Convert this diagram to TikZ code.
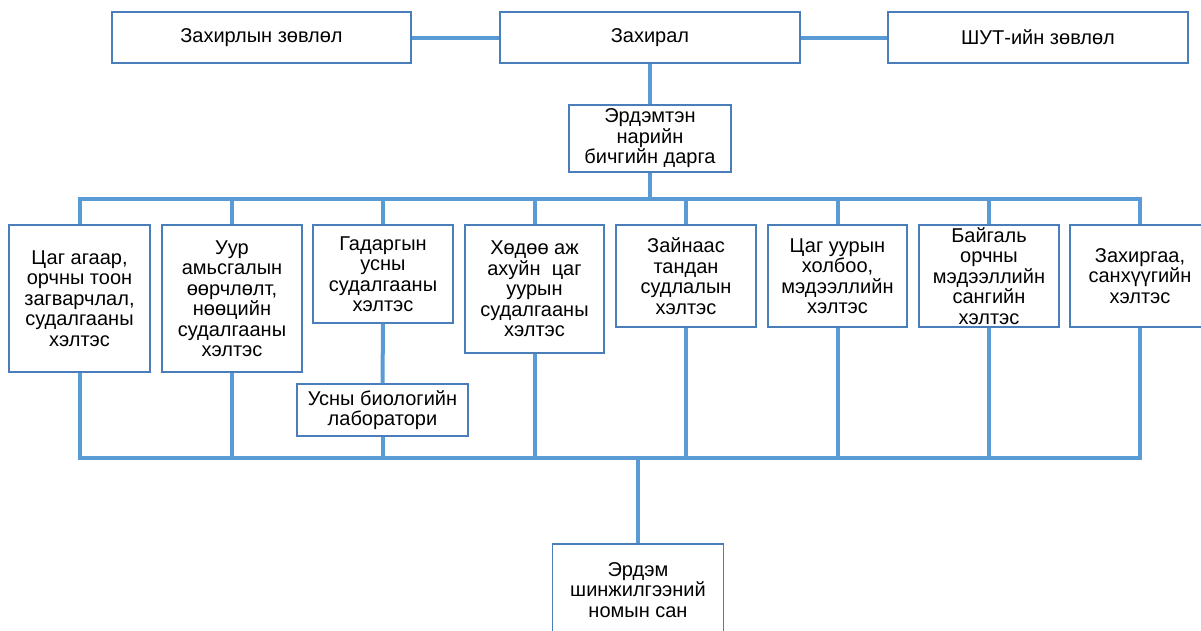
\documentclass[tikz,border=0pt]{standalone}
\usepackage{fontspec}
\setmainfont{Liberation Sans}
\definecolor{linkblue}{HTML}{5B9BD5}
\definecolor{boxedge}{HTML}{4A7EBB}
\begin{document}
\begin{tikzpicture}[x=1pt,y=-1pt,
  box/.style={draw=boxedge,line width=1.3pt,fill=white,rectangle,inner sep=0pt,align=center,
    font=\fontsize{20}{20.5}\selectfont},
  conn/.style={draw=linkblue,line width=4pt}]
\clip (0,0) rectangle (1201,630);
\fill[white] (0,0) rectangle (1201,630);
% coordinates of the buses
\coordinate (tbus) at (650,199);
\coordinate (bbus) at (638,458);
% nodes
\node[box,minimum width=299,minimum height=51] (zs) at (261.5,37.5) {Захирлын зөвлөл};
\node[box,minimum width=300,minimum height=51] (dir) at (650,37.5) {Захирал};
\node[box,minimum width=300,minimum height=51] (shut) at (1038,37.5) {ШУТ-ийн зөвлөл};
\node[box,minimum width=162,minimum height=67] (sec) at (650,138.5) {Эрдэмтэн\\нарийн\\бичгийн дарга};
\node[box,minimum width=141,minimum height=147] (b1) at (79.5,298.5) {Цаг агаар,\\орчны тоон\\загварчлал,\\судалгааны\\хэлтэс};
\node[box,minimum width=140,minimum height=147] (b2) at (232,298.5) {Уур\\амьсгалын\\өөрчлөлт,\\нөөцийн\\судалгааны\\хэлтэс};
\node[box,minimum width=140,minimum height=98] (b3) at (383,274) {Гадаргын\\усны\\судалгааны\\хэлтэс};
\node[box,minimum width=139,minimum height=128] (b4) at (534.5,289) {Хөдөө аж\\ахуйн\ \ цаг\\уурын\\судалгааны\\хэлтэс};
\node[box,minimum width=140,minimum height=102] (b5) at (686,276) {Зайнаас\\тандан\\судлалын\\хэлтэс};
\node[box,minimum width=139,minimum height=102] (b6) at (837.5,276) {Цаг уурын\\холбоо,\\мэдээллийн\\хэлтэс};
\node[box,minimum width=140,minimum height=102] (b7) at (989,276) {Байгаль\\орчны\\мэдээллийн\\сангийн\\хэлтэс};
\node[box,minimum width=140,minimum height=102] (b8) at (1140,276) {Захиргаа,\\санхүүгийн\\хэлтэс};
\node[box,minimum width=171,minimum height=52] (lab) at (382.5,410) {Усны биологийн\\лаборатори};
\node[box,minimum width=171,minimum height=92] (lib) at (638,590) {Эрдэм\\шинжилгээний\\номын сан};
% connectors
\draw[conn] (zs.east) -- (dir.west);
\draw[conn] (dir.east) -- (shut.west);
\draw[conn] (dir.south) -- (sec.north);
\draw[conn] (sec.south) -- (tbus);
\foreach \b in {b1,b2,b3,b4,b5,b6,b7,b8}{
  \draw[conn] (\b.north) |- (tbus);
}
\foreach \b in {b1,b2,lab,b4,b5,b6,b7,b8}{
  \draw[conn] (\b.south) |- (bbus);
}
\draw[conn] (b3.south) -- (lab.north);
\draw[conn] (lib.north) -- (bbus);
\end{tikzpicture}
\end{document}
